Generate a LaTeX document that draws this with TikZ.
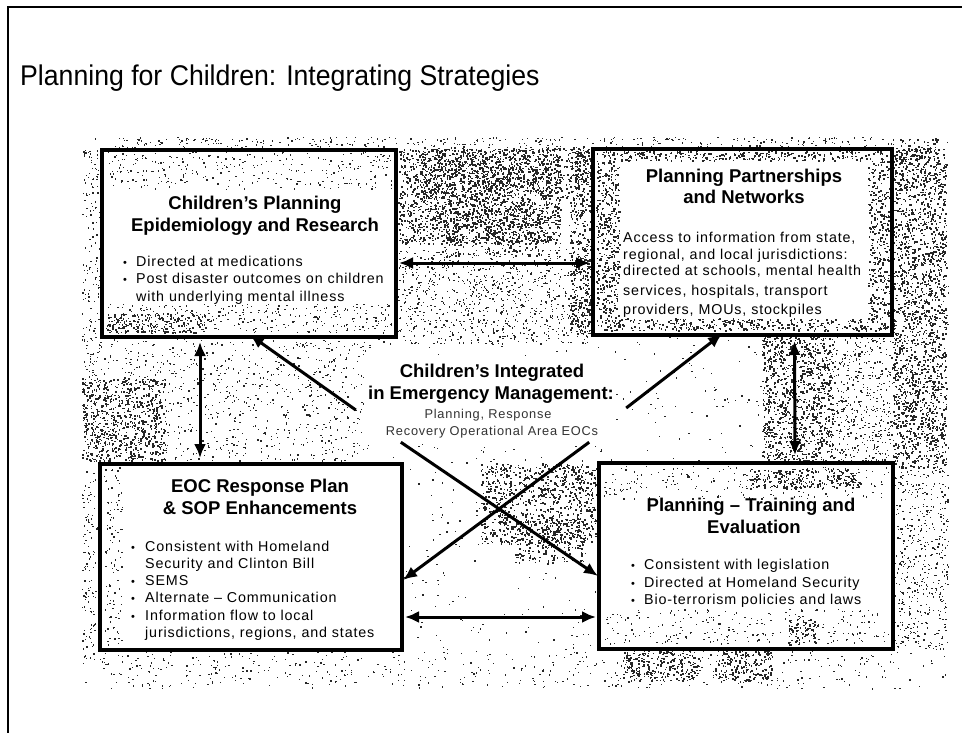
\documentclass[tikz,border=0pt]{standalone}
\usepackage{fontspec}
\setmainfont{Liberation Sans}
\newfontfamily\bodyfont[LetterSpace=6]{Liberation Sans}
\usetikzlibrary{arrows.meta,calc}

% scatter #5 grain dots of side #6 in the area (#1,#2)-(#3,#4), y measured downwards
\newcommand\speckles[6]{%
  \foreach \k in {1,...,#5}{%
    \pgfmathparse{#1+rnd*(#3-#1)}\let\sx\pgfmathresult
    \pgfmathparse{#2+rnd*(#4-#2)}\let\sy\pgfmathresult
    \pgfpathrectangle{\pgfqpoint{\sx pt}{-\sy pt}}{\pgfqpoint{#6pt}{#6pt}}%
    \pgfusepath{fill}%
  }}
\newcommand\grain[5]{\speckles{#1}{#2}{#3}{#4}{#5}{1.3}}
\newcommand\dense[5]{\speckles{#1}{#2}{#3}{#4}{#5}{1.6}}

\tikzset{
  panel/.style={draw, line width=3.5pt, fill=white, rectangle, inner sep=0pt, outer sep=0pt},
  frame/.style={line width=3.5pt},
  head/.style={font=\fontsize{18.5}{22}\selectfont\bfseries, inner sep=0pt, anchor=base},
  body/.style={font=\bodyfont\fontsize{14.3}{17}\selectfont, inner sep=0pt, anchor=base west},
  small/.style={font=\bodyfont\fontsize{12.8}{15}\selectfont, inner sep=0pt, anchor=base, text=black!80},
  dot/.style={font=\fontsize{11}{13}\selectfont, inner sep=0pt, anchor=base},
  link/.style={line width=3pt, {Latex[length=14pt,width=12pt]}-{Latex[length=14pt,width=12pt]}},
  feed/.style={line width=3pt, -{Latex[length=14pt,width=12pt]}},
}

\begin{document}
\begin{tikzpicture}[x=1pt,y=-1pt]
\useasboundingbox (0,0) rectangle (962,733);
\pgfmathsetseed{20240}

% slide frame
\draw[line width=1.3pt] (962,7) -- (8,7) -- (8,733);

% title
\node[anchor=base west, inner sep=0pt, font=\fontsize{28.5}{34}\selectfont] (title) at (20,86)
  {\scalebox{0.935}[1]{Planning for Children: Integrating Strategies}};

% grainy backdrop
\begin{scope}
\pgfsetfillcolor{black!85}
\grain{82}{138}{948}{688}{1900}
\grain{110}{138}{900}{152}{400}
\dense{398}{150}{560}{245}{1700}
\dense{420}{148}{585}{200}{600}
\dense{440}{200}{540}{258}{350}
\grain{398}{250}{592}{345}{850}
\dense{570}{150}{593}{335}{480}
\dense{893}{150}{946}{470}{1900}
\dense{900}{140}{938}{160}{80}
\dense{762}{337}{832}{463}{1000}
\grain{832}{337}{893}{463}{420}
\grain{893}{470}{948}{650}{450}
\dense{480}{465}{596}{545}{850}
\dense{515}{520}{585}{565}{200}
\dense{82}{380}{165}{462}{650}
\grain{100}{340}{370}{462}{700}
\grain{82}{150}{100}{660}{350}
\dense{622}{652}{700}{682}{240}
\dense{715}{652}{772}{682}{180}
\grain{100}{650}{900}{690}{400}
\end{scope}

% panels
\node[panel, minimum width=294pt, minimum height=187pt] (tl) at (249,243.5) {};
\node[panel, minimum width=299pt, minimum height=186pt] (tr) at (742.5,242) {};
\node[panel, minimum width=302pt, minimum height=186pt] (bl) at (251,557) {};
\node[panel, minimum width=294pt, minimum height=186pt] (br) at (746,556) {};
\node[fill=white, minimum width=252pt, minimum height=88pt, inner sep=0pt] (hub) at (490,400) {};

% grain inside the panels
\begin{scope}
\pgfsetfillcolor{black!85}
\grain{106}{153}{392}{190}{280}
\grain{106}{305}{392}{334}{320}
\dense{108}{314}{205}{334}{200}
\dense{596}{152}{889}{162}{300}
\dense{596}{320}{889}{332}{360}
\dense{596}{162}{619}{320}{400}
\dense{868}{162}{889}{320}{330}
\grain{104}{468}{122}{646}{110}
\grain{603}{467}{889}{500}{200}
\grain{603}{610}{889}{645}{240}
\dense{748}{470}{860}{490}{240}
\dense{788}{620}{815}{646}{70}
\end{scope}

% frames redrawn over the grain
\draw[frame] (tl.south west) rectangle (tl.north east);
\draw[frame] (tr.south west) rectangle (tr.north east);
\draw[frame] (bl.south west) rectangle (bl.north east);
\draw[frame] (br.south west) rectangle (br.north east);

% top left panel
\node[head] (tl-h1) at (255,210) {Children’s Planning};
\node[head] (tl-h2) at (255,232) {Epidemiology and Research};
\node[dot] (tl-d1) at (125,266) {•};
\node[body] (tl-b1) at (136,266) {Directed at medications};
\node[dot] (tl-d2) at (125,283.5) {•};
\node[body] (tl-b2) at (136,283.5) {Post disaster outcomes on children};
\node[body] (tl-b3) at (136,301) {with underlying mental illness};

% top right panel
\node[head] (tr-h1) at (744,183) {Planning Partnerships};
\node[head] (tr-h2) at (744,204) {and Networks};
\node[body] (tr-b1) at (623,243) {Access to information from state,};
\node[body] (tr-b2) at (623,259) {regional, and local jurisdictions:};
\node[body] (tr-b3) at (623,275) {directed at schools, mental health};
\node[body] (tr-b4) at (623,295) {services, hospitals, transport};
\node[body] (tr-b5) at (623,314) {providers, MOUs, stockpiles};

% bottom left panel
\node[head] (bl-h1) at (260,492) {EOC Response Plan};
\node[head] (bl-h2) at (260,514) {\& SOP Enhancements};
\node[dot] (bl-d1) at (133,551) {•};
\node[body] (bl-b1) at (145,551) {Consistent with Homeland};
\node[body] (bl-b2) at (145,568) {Security and Clinton Bill};
\node[dot] (bl-d3) at (133,585.5) {•};
\node[body] (bl-b3) at (145,585.5) {SEMS};
\node[dot] (bl-d4) at (133,602.5) {•};
\node[body] (bl-b4) at (145,602.5) {Alternate – Communication};
\node[dot] (bl-d5) at (133,620) {•};
\node[body] (bl-b5) at (145,620) {Information flow to local};
\node[body] (bl-b6) at (145,637) {jurisdictions, regions, and states};

% bottom right panel
\node[head] (br-h1) at (751,511) {Planning – Training and};
\node[head] (br-h2) at (754,533) {Evaluation};
\node[dot] (br-d1) at (633,569) {•};
\node[body] (br-b1) at (644,569) {Consistent with legislation};
\node[dot] (br-d2) at (633,587) {•};
\node[body] (br-b2) at (644,587) {Directed at Homeland Security};
\node[dot] (br-d3) at (633,604) {•};
\node[body] (br-b3) at (644,604) {Bio-terrorism policies and laws};

% central statement
\node[head] (hub-1) at (492,377) {Children’s Integrated};
\node[head] (hub-2) at (491,399) {in Emergency Management:};
\node[small] (hub-3) at (488,418) {Planning, Response};
\node[small] (hub-4) at (492,435) {Recovery Operational Area EOCs};

% two-way links between neighbouring panels
\draw[link] ($(tl.east)+(3,19.5)$) -- ($(tr.west)+(-3,21)$);
\draw[link] ($(tl.south)+(-49,5)$) -- ($(bl.north)+(-51,-6)$);
\draw[link] ($(tr.south)+(52,6)$) -- ($(br.north)+(49,-8)$);
\draw[link] ($(bl.east)+(3,60)$) -- ($(br.west)+(-3,61)$);

% links from the central statement to each panel
\coordinate (hub-tl) at ($(hub.west)+(-8,10)$);
\coordinate (hub-tr) at ($(hub.east)+(10,8)$);
\coordinate (hub-br) at ($(hub.south west)+(37,-2)$);
\coordinate (hub-bl) at ($(hub.south east)+(-27,-2)$);
\draw[feed] (hub-tl) -- ($(tl.south west)+(148,-2)$);
\draw[feed] (hub-tr) -- ($(tr.south west)+(129,-1)$);
\draw[feed] (hub-br) -- ($(br.west)+(-1,20)$);
\draw[feed] (hub-bl) -- ($(bl.east)+(1,23)$);
\end{tikzpicture}
\end{document}
